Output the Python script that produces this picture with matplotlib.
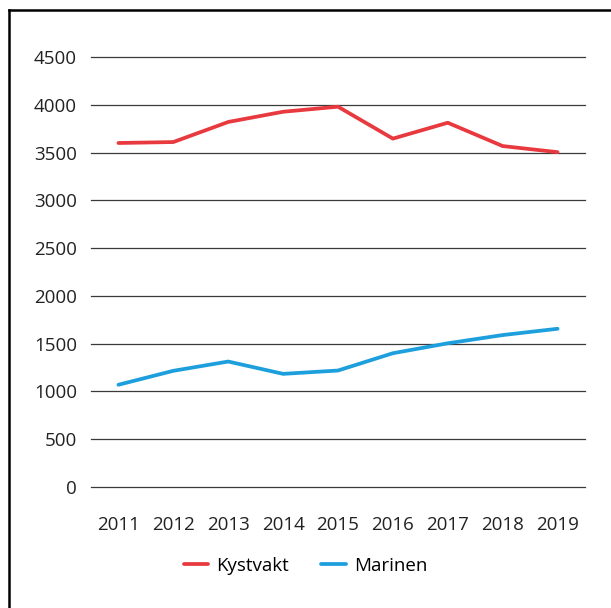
import numpy as np
import matplotlib.pyplot as plt
from matplotlib.lines import Line2D

years = [2011, 2012, 2013, 2014, 2015, 2016, 2017, 2018, 2019]
kystvakt = [3600, 3610, 3820, 3927, 3980, 3646, 3812, 3568, 3504]
marinen = [1070, 1216, 1313, 1184, 1219, 1400, 1504, 1590, 1656]

plt.rcParams['font.family'] = ['Open Sans', 'DejaVu Sans']

fig = plt.figure(figsize=(6.11, 6.08), dpi=100)
ax = fig.add_axes([91/611, 1-487/608, (585-91)/611, (487-57)/608])

x = np.arange(len(years))
ax.plot(x, kystvakt, color='#E8393F', lw=2.7, label='Kystvakt', solid_capstyle='round')
ax.plot(x, marinen, color='#1C9FDC', lw=2.7, label='Marinen', solid_capstyle='round')

ax.set_xlim(-0.5, len(years) - 0.5)
ax.set_ylim(0, 4500)
ax.set_yticks(np.arange(0, 4501, 500))
ax.set_xticks(x)
ax.set_xticklabels([str(y) for y in years])
ax.yaxis.grid(True, color='#3a3a3a', lw=0.9)
for gl in ax.get_ygridlines():
    gl.set_clip_on(False)
ax.set_axisbelow(True)
for s in ax.spines.values():
    s.set_visible(False)
ax.tick_params(axis='both', length=0, labelsize=13.5, colors='#222222')
ax.tick_params(axis='y', pad=10)
ax.tick_params(axis='x', pad=21)

ax.legend(loc='center', bbox_to_anchor=(0.434, -0.183), ncol=2, frameon=False,
          fontsize=13.5, handlelength=1.3, columnspacing=1.75, handletextpad=0.42)

# ramme rundt figuren
fig.add_artist(Line2D([9/611, 9/611], [0, 1-10/608], transform=fig.transFigure, color='black', lw=1.8))
fig.add_artist(Line2D([9/611, 1], [1-10/608, 1-10/608], transform=fig.transFigure, color='black', lw=1.8))

fig.savefig('out.png', dpi=100)
